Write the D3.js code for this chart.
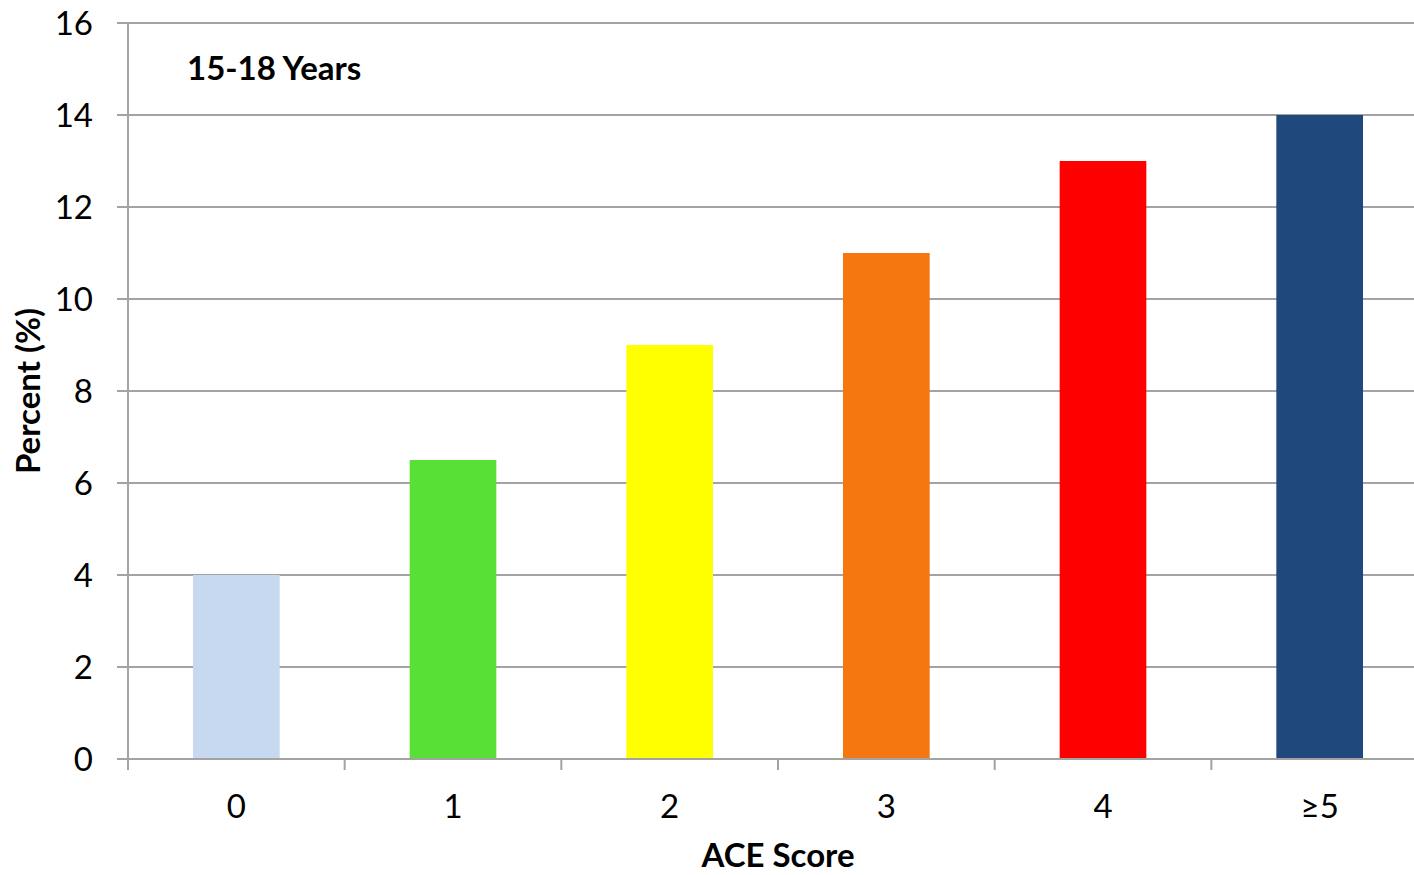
<!DOCTYPE html>
<html>
<head>
<meta charset="utf-8">
<script src="https://cdn.jsdelivr.net/npm/d3@7"></script>
<style>
  html, body { margin: 0; padding: 0; background: #fff; overflow: hidden; }
  svg { display: block; font-family: Lato, "Open Sans", sans-serif; }
</style>
</head>
<body>
<svg id="chart" width="1414" height="875"></svg>
<script>
// ACE score categories and share of 15-18 year olds (%)
const categories = ["0", "1", "2", "3", "4", "\u22655"];
const percents = [4, 6.5, 9, 11, 13, 14];
const barColors = ["#c6d9f1", "#58e036", "#ffff00", "#f5770f", "#ff0000", "#1f497d"];
const yTicks = [0, 2, 4, 6, 8, 10, 12, 14, 16];

const svg = d3.select("#chart");
const plotLeft = 128, plotRight = 1428, plotTop = 23, plotBottom = 759;
const gridColor = "#a3a3a3";
const labelSize = 33, titleSize = 33;

const x = d3.scaleBand().domain(categories).range([plotLeft, plotRight])
  .paddingInner(0.6).paddingOuter(0.3);
const y = d3.scaleLinear().domain([0, 16]).range([plotBottom, plotTop]);

// horizontal gridlines with left tick stubs
svg.append("g").selectAll("line").data(yTicks).join("line")
  .attr("x1", plotLeft - 11).attr("x2", plotRight)
  .attr("y1", d => y(d)).attr("y2", d => y(d))
  .attr("stroke", gridColor).attr("stroke-width", 2);

// y axis labels
const yAxis = d3.axisLeft(y).tickValues(yTicks).tickSize(0).tickPadding(35);
const gy = svg.append("g").attr("transform", `translate(${plotLeft},0)`).call(yAxis);
gy.select(".domain").remove();
gy.selectAll("text").attr("font-size", labelSize).attr("fill", "#000")
  .attr("font-family", "Lato, sans-serif").attr("dy", "0.36em");

// bars
svg.append("g").selectAll("rect").data(percents).join("rect")
  .attr("x", (d, i) => x(categories[i]))
  .attr("width", x.bandwidth())
  .attr("y", d => y(d))
  .attr("height", d => y(0) - y(d))
  .attr("fill", (d, i) => barColors[i]);

// vertical axis line
svg.append("line").attr("x1", plotLeft).attr("x2", plotLeft)
  .attr("y1", plotTop).attr("y2", plotBottom + 11)
  .attr("stroke", gridColor).attr("stroke-width", 2);

// baseline redrawn above bars
svg.append("line").attr("x1", plotLeft - 11).attr("x2", plotRight)
  .attr("y1", plotBottom).attr("y2", plotBottom)
  .attr("stroke", gridColor).attr("stroke-width", 2);

// category boundary ticks
const step = x.step();
const bounds = d3.range(categories.length + 1).map(i => plotLeft + i * step);
svg.append("g").selectAll("line").data(bounds).join("line")
  .attr("x1", d => d).attr("x2", d => d)
  .attr("y1", plotBottom).attr("y2", plotBottom + 11)
  .attr("stroke", gridColor).attr("stroke-width", 2);

// x axis labels
const xAxis = d3.axisBottom(x).tickSize(0).tickPadding(36);
const gx = svg.append("g").attr("transform", `translate(0,${plotBottom})`).call(xAxis);
gx.select(".domain").remove();
gx.selectAll("text").attr("font-size", labelSize).attr("fill", "#000")
  .attr("font-family", "Lato, sans-serif");

// panel label
svg.append("text").attr("x", 187).attr("y", 80)
  .attr("font-size", titleSize).attr("font-weight", "bold").attr("fill", "#000")
  .text("15-18 Years");

// axis titles
svg.append("text").attr("x", 778).attr("y", 867).attr("text-anchor", "middle")
  .attr("font-size", titleSize).attr("font-weight", "bold").attr("fill", "#000")
  .text("ACE Score");

svg.append("text")
  .attr("transform", `translate(40,${(plotTop + plotBottom) / 2}) rotate(-90)`)
  .attr("text-anchor", "middle")
  .attr("font-size", titleSize).attr("font-weight", "bold").attr("fill", "#000")
  .text("Percent (%)");
</script>
</body>
</html>
